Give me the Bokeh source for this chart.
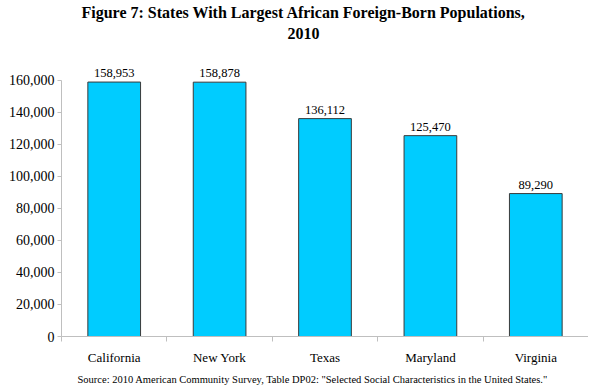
from bokeh.plotting import figure
from bokeh.models import (FixedTicker, NumeralTickFormatter, Range1d, Title,
                          ColumnDataSource)
from bokeh.core.properties import value
from bokeh.embed import file_html
from bokeh.resources import INLINE

states = ["California", "New York", "Texas", "Maryland", "Virginia"]
populations = [158953, 158878, 136112, 125470, 89290]
y_ticks = [0, 20000, 40000, 60000, 80000, 100000, 120000, 140000, 160000]
y_axis_max = 160000
title_line1 = "Figure 7: States With Largest African Foreign-Born Populations,"
title_line2 = "2010"
source_text = ('Source: 2010 American Community Survey, Table DP02: '
               '"Selected Social Characteristics in the United States."')

SERIF = "Liberation Serif"
n = len(states)
centers = [i + 0.5 for i in range(n)]
src = ColumnDataSource(dict(
    x=centers, top=populations,
    label=[f"{v:,}" for v in populations],
))

# layout: frame top (px) from title panels, axis max drawn at px 79, zero at px 336
FRAME_TOP, AXIS_TOP, AXIS_BOTTOM = 42, 79, 336
y_end = y_axis_max * (AXIS_BOTTOM - FRAME_TOP) / (AXIS_BOTTOM - AXIS_TOP)

p = figure(width=588, height=388, output_backend="svg", toolbar_location=None,
           x_range=Range1d(0, n), y_range=Range1d(0, y_end),
           min_border_left=61, min_border_right=0, min_border_top=0,
           min_border_bottom=0, title=None)
p.outline_line_color = None
p.xgrid.visible = False
p.ygrid.visible = False
p.background_fill_color = "white"
p.border_fill_color = "white"

# titles: the one added first sits closest to the plot
p.add_layout(Title(text=title_line2, align="left", offset=226,
                   vertical_align="top", text_font=SERIF,
                   text_font_size="16px", text_font_style="bold",
                   text_color="black", standoff=5), "above")
p.add_layout(Title(text=title_line1, align="left", offset=20,
                   vertical_align="top", text_font=SERIF,
                   text_font_size="16px", text_font_style="bold",
                   text_color="black", standoff=6), "above")

p.vbar(x="x", top="top", width=0.5, source=src, fill_color="#00CCFF",
       line_color="#3a3a3a", line_width=1)
p.text(x="x", y="top", text="label", source=src, text_align="center",
       text_baseline="bottom", y_offset=-5, text_font=value(SERIF),
       text_font_size="12.5px", text_color="black")

# y axis
ya = p.yaxis[0]
ya.bounds = (0, y_axis_max)
ya.ticker = FixedTicker(ticks=y_ticks)
ya.formatter = NumeralTickFormatter(format="0,0")
ya.axis_line_color = "#bfbfbf"
ya.major_tick_line_color = "#bfbfbf"
ya.major_tick_out = 4
ya.major_tick_in = 0
ya.minor_tick_line_color = None
ya.major_label_standoff = 3
ya.major_label_text_font = SERIF
ya.major_label_text_font_size = "14px"
ya.major_label_text_color = "black"

# x axis
xa = p.xaxis[0]
xa.ticker = FixedTicker(ticks=centers, minor_ticks=list(range(n + 1)))
xa.major_label_overrides = {c: s for c, s in zip(centers, states)}
xa.axis_line_color = "#bfbfbf"
xa.major_tick_line_color = None
xa.major_tick_out = 0
xa.major_tick_in = 0
xa.minor_tick_line_color = "#bfbfbf"
xa.minor_tick_out = 5
xa.minor_tick_in = 0
xa.major_label_standoff = 8
xa.major_label_text_font = SERIF
xa.major_label_text_font_size = "13px"
xa.major_label_text_color = "black"

p.add_layout(Title(text=source_text, align="left", offset=16,
                   text_font=SERIF, text_font_size="10.5px",
                   text_font_style="normal", text_color="black",
                   standoff=8), "below")

open("out.html", "w").write(file_html(p, INLINE))
